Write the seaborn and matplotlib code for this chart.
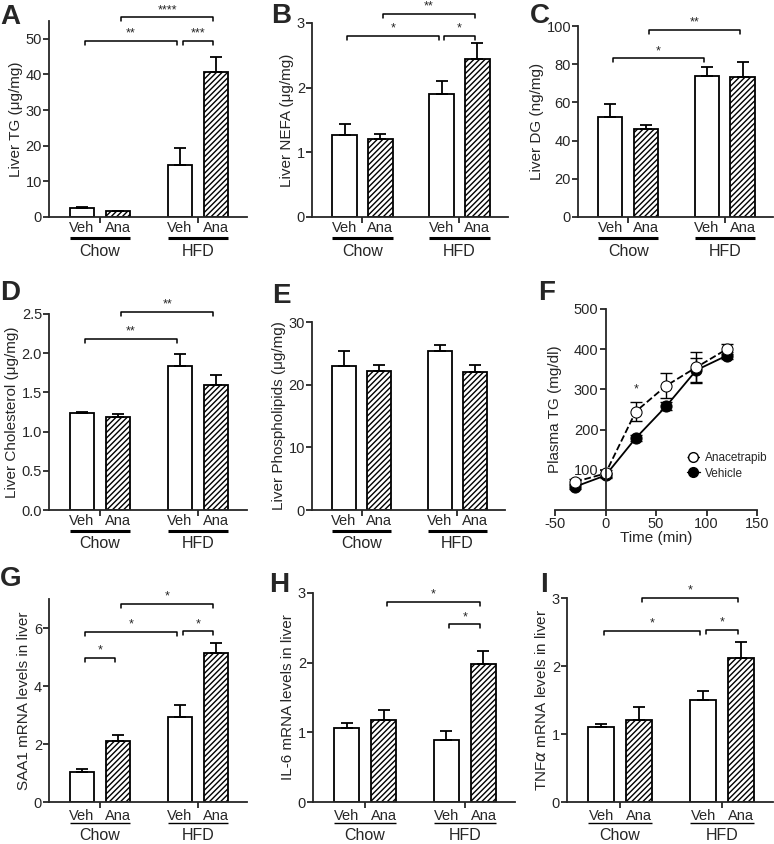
import numpy as np
import pandas as pd
import seaborn as sns
import matplotlib.pyplot as plt
from matplotlib.lines import Line2D
from matplotlib.transforms import offset_copy

# ---- data (mean, SEM) ----
groups = ['Chow', 'HFD']
treatments = ['Veh', 'Ana']

liver_tg = [2.5, 1.6, 14.5, 40.6]
liver_tg_sem = [0.4, 0.15, 4.8, 4.4]
liver_nefa = [1.27, 1.20, 1.90, 2.44]
liver_nefa_sem = [0.17, 0.09, 0.21, 0.25]
liver_dg = [52.5, 46.3, 73.7, 73.4]
liver_dg_sem = [6.7, 2.0, 4.6, 7.5]
liver_chol = [1.235, 1.19, 1.84, 1.59]
liver_chol_sem = [0.02, 0.04, 0.15, 0.13]
liver_pl = [23.0, 22.25, 25.3, 22.0]
liver_pl_sem = [2.3, 0.95, 1.0, 1.2]
saa1 = [1.03, 2.09, 2.93, 5.14]
saa1_sem = [0.11, 0.21, 0.40, 0.33]
il6 = [1.06, 1.18, 0.89, 1.98]
il6_sem = [0.08, 0.14, 0.13, 0.19]
tnfa = [1.10, 1.20, 1.50, 2.12]
tnfa_sem = [0.04, 0.20, 0.13, 0.23]

# fat tolerance test (panel F)
time_min = [-30, 0, 30, 60, 90, 120]
ana_tg = [70, 91, 245, 309, 355, 400]
ana_tg_sem = [6, 8, 24, 31, 38, 12]
veh_tg = [58, 86, 179, 258, 348, 384]
veh_tg_sem = [5, 6, 8, 10, 30, 8]

# significance brackets: (bar i, bar j, height, label); bars 0=Chow Veh, 1=Chow Ana, 2=HFD Veh, 3=HFD Ana
sig_tg = [(0, 2, 49.5, '**'), (2, 3, 49.5, '***'), (1, 3, 56, '****')]
sig_nefa = [(0, 2, 2.80, '*'), (2, 3, 2.80, '*'), (1, 3, 3.14, '**')]
sig_dg = [(0, 2, 83, '*'), (1, 3, 98, '**')]
sig_chol = [(0, 2, 2.18, '**'), (1, 3, 2.53, '**')]
sig_saa1 = [(0, 1, 4.98, '*'), (0, 2, 5.86, '*'), (2, 3, 5.88, '*'), (1, 3, 6.84, '*')]
sig_il6 = [(1, 3, 2.87, '*'), (2, 3, 2.55, '*')]
sig_tnfa = [(0, 2, 2.52, '*'), (2, 3, 2.53, '*'), (1, 3, 3.0, '*')]

W, H = 774, 844
sns.set_theme(style='ticks')
plt.rcParams['font.family'] = ['Liberation Sans', 'DejaVu Sans']
plt.rcParams['axes.unicode_minus'] = False
plt.rcParams['hatch.linewidth'] = 1.0
plt.rcParams['axes.linewidth'] = 1.3
plt.rcParams['xtick.major.width'] = 1.3
plt.rcParams['ytick.major.width'] = 1.3
plt.rcParams['xtick.major.size'] = 4
plt.rcParams['ytick.major.size'] = 4

fig = plt.figure(figsize=(W / 100, H / 100), dpi=100)


def add_axes(left, right, top, bottom):
    return fig.add_axes([left / W, 1 - bottom / H, (right - left) / W, (bottom - top) / H])


def bar_panel(rect, values, sems, ylabel, ylim, yticks, sigs, row3=False, fmt=None):
    ax = add_axes(*rect)
    df = pd.DataFrame({'diet': np.repeat(groups, 2),
                       'treatment': treatments * 2,
                       'value': values})
    sns.barplot(data=df, x='diet', y='value', hue='treatment', hue_order=treatments,
                palette=['white', 'white'], saturation=1, edgecolor='black', linewidth=1.3,
                errorbar=None, width=0.74, gap=0.32, legend=False, ax=ax)
    for p in ax.containers[1]:
        p.set_hatch('//////')
    veh, ana = ax.containers[0].patches, ax.containers[1].patches
    bars = [veh[0], ana[0], veh[1], ana[1]]
    xs = [b.get_x() + b.get_width() / 2 for b in bars]
    ax.errorbar(xs, values, yerr=[np.zeros(4), sems], fmt='none', ecolor='black',
                elinewidth=1.3, capsize=4.5, capthick=1.3)

    ax.set_xlim(-0.52, 1.5)
    ax.set_ylim(*ylim)
    ax.set_yticks(yticks)
    if fmt:
        ax.set_yticklabels([fmt % t for t in yticks])
    ax.set_xticks([0, 1])
    ax.set_xticklabels([])
    ax.set_xlabel('')
    ax.set_ylabel(ylabel, fontsize=11, labelpad=2)
    ax.tick_params(labelsize=10.5, pad=1)
    sns.despine(ax=ax)

    # treatment / diet labels under the axis
    t_lab = offset_copy(ax.get_xaxis_transform(), fig=fig, y=-14 if row3 else -11, units='dots')
    t_line = offset_copy(ax.get_xaxis_transform(), fig=fig, y=-21, units='dots')
    t_grp = offset_copy(ax.get_xaxis_transform(), fig=fig, y=-34, units='dots')
    for k, b in enumerate(bars):
        ax.text(xs[k], 0, treatments[k % 2], transform=t_lab, ha='center', va='center', fontsize=10.5)
    for g in range(2):
        x0 = bars[2 * g].get_x()
        x1 = bars[2 * g + 1].get_x() + bars[2 * g + 1].get_width()
        ax.plot([x0, x1], [0, 0], transform=t_line, color='black', lw=1.0 if row3 else 2.2,
                clip_on=False, solid_capstyle='butt')
        ax.text((x0 + x1) / 2, 0, groups[g], transform=t_grp, ha='center', va='center', fontsize=11.5)

    # significance brackets
    ax_h = rect[3] - rect[2]
    drop = (ylim[1] - ylim[0]) * 4 / ax_h
    for i, j, y, lab in sigs:
        x0, x1 = xs[i] + 0.03, xs[j] - 0.03
        ax.plot([x0, x0, x1, x1], [y - drop, y, y, y - drop], color='black', lw=1.1, clip_on=False)
        ax.text((x0 + x1) / 2, y + drop * 0.3, lab, ha='center', va='bottom', fontsize=9)
    return ax


bar_panel((49, 247, 21, 217), liver_tg, liver_tg_sem, 'Liver TG (\u03bcg/mg)', (0, 55),
          [0, 10, 20, 30, 40, 50], sig_tg)
bar_panel((312, 508, 23, 217), liver_nefa, liver_nefa_sem, 'Liver NEFA (\u03bcg/mg)', (0, 3),
          [0, 1, 2, 3], sig_nefa)
bar_panel((578, 773, 26, 217), liver_dg, liver_dg_sem, 'Liver DG (ng/mg)', (0, 100),
          [0, 20, 40, 60, 80, 100], sig_dg)
bar_panel((49, 247, 314, 510), liver_chol, liver_chol_sem, 'Liver Cholesterol (\u03bcg/mg)', (0, 2.5),
          [0, 0.5, 1.0, 1.5, 2.0, 2.5], sig_chol, fmt='%.1f')
bar_panel((312, 505, 322, 510), liver_pl, liver_pl_sem, 'Liver Phospholipids (\u03bcg/mg)', (0, 30),
          [0, 10, 20, 30], [])
bar_panel((49, 247, 599, 802), saa1, saa1_sem, 'SAA1 mRNA levels in liver', (0, 7),
          [0, 2, 4, 6], sig_saa1, row3=True)
bar_panel((313, 515, 593, 802), il6, il6_sem, 'IL-6 mRNA levels in liver', (0, 3),
          [0, 1, 2, 3], sig_il6, row3=True)
bar_panel((567, 773, 598, 802), tnfa, tnfa_sem, 'TNF$\\alpha$ mRNA levels in liver', (0, 3),
          [0, 1, 2, 3], sig_tnfa, row3=True)

# ---- panel F: plasma TG over time ----
ax = add_axes(555, 757, 309, 510)
ax.errorbar(time_min, veh_tg, yerr=veh_tg_sem, fmt='none', ecolor='black', elinewidth=1.0,
            capsize=4.5, capthick=1.0)
sns.lineplot(x=time_min, y=veh_tg, ax=ax, color='black', lw=1.3, marker='o', markersize=8,
             markerfacecolor='black', markeredgecolor='black')
ax.errorbar(time_min, ana_tg, yerr=ana_tg_sem, fmt='none', ecolor='black', elinewidth=1.0,
            capsize=4.5, capthick=1.0)
sns.lineplot(x=time_min, y=ana_tg, ax=ax, color='black', lw=1.3, linestyle='--', marker='o',
             markersize=8, markerfacecolor='white', markeredgecolor='black')
ax.text(30, 285, '*', ha='center', va='bottom', fontsize=9)
ax.set_xlim(-50, 150)
ax.set_ylim(0, 500)
ax.set_xticks([-50, 0, 50, 100, 150])
ax.set_yticks([100, 200, 300, 400, 500])
ax.spines['left'].set_position(('data', 0))
sns.despine(ax=ax)
ax.tick_params(labelsize=10.5, pad=1)
ax.set_xlabel('Time (min)', fontsize=11, labelpad=0)
ax.set_ylabel('Plasma TG (mg/dl)', fontsize=11)
ax.yaxis.set_label_coords(0.035, 0.5)
handles = [Line2D([], [], color='black', ls='--', lw=1.0, marker='o', markersize=7,
                  markerfacecolor='white', markeredgecolor='black'),
           Line2D([], [], color='black', lw=1.0, marker='o', markersize=7,
                  markerfacecolor='black', markeredgecolor='black')]
ax.legend(handles, ['Anacetrapib', 'Vehicle'], loc='center left', bbox_to_anchor=(0.6, 0.22),
          frameon=False, fontsize=8.5, handlelength=1.1, handletextpad=0.4, labelspacing=0.3)

# panel letters
for lab, x, y in [('A', 0, 4), ('B', 271, 3), ('C', 530, 3), ('D', 0, 280), ('E', 272, 283),
                  ('F', 538, 280), ('G', 0, 566), ('H', 269, 572), ('I', 540, 572)]:
    fig.text(x / W, 1 - y / H, lab, fontsize=20, fontweight='bold', ha='left', va='top')

fig.savefig('out.png', dpi=100)
